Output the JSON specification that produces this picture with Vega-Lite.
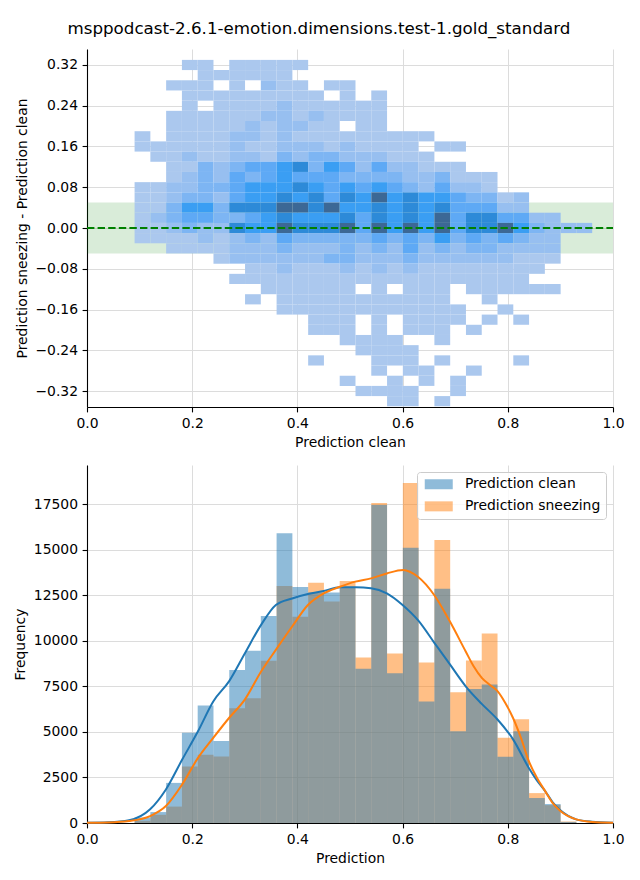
{
"$schema": "https://vega.github.io/schema/vega-lite/v6.json",
"background": "white",
"padding": {"left": 13, "top": 20, "right": 5, "bottom": 5},
"title": {"text": "msppodcast-2.6.1-emotion.dimensions.test-1.gold_standard", "font": "DejaVu Sans", "fontSize": 16.7, "fontWeight": "normal", "color": "black", "anchor": "middle", "baseline": "bottom", "offset": -5.5},
"spacing": 15,
"resolve": {"scale": {"color": "independent"}, "legend": {"color": "independent"}},
"datasets": {
"cells": [
{"x":0.1795,"y":0.311,"n":1},{"x":0.2095,"y":0.311,"n":1},{"x":0.2695,"y":0.311,"n":1},{"x":0.2995,"y":0.311,"n":1},{"x":0.3295,"y":0.311,"n":1},{"x":0.3595,"y":0.311,"n":1},{"x":0.3895,"y":0.311,"n":1},
{"x":0.2095,"y":0.291,"n":1},{"x":0.2395,"y":0.291,"n":1},{"x":0.2695,"y":0.291,"n":1},{"x":0.2995,"y":0.291,"n":1},{"x":0.3295,"y":0.291,"n":1},{"x":0.3595,"y":0.291,"n":1},
{"x":0.1495,"y":0.271,"n":1},{"x":0.1795,"y":0.271,"n":1},{"x":0.2095,"y":0.271,"n":1},{"x":0.2695,"y":0.271,"n":1},{"x":0.3295,"y":0.271,"n":2},{"x":0.3595,"y":0.271,"n":1},{"x":0.3895,"y":0.271,"n":1},{"x":0.4495,"y":0.271,"n":1},{"x":0.4795,"y":0.271,"n":1},
{"x":0.1795,"y":0.251,"n":1},{"x":0.2095,"y":0.251,"n":1},{"x":0.2395,"y":0.251,"n":1},{"x":0.2695,"y":0.251,"n":1},{"x":0.2995,"y":0.251,"n":1},{"x":0.3295,"y":0.251,"n":1},{"x":0.3595,"y":0.251,"n":1},{"x":0.3895,"y":0.251,"n":1},{"x":0.4195,"y":0.251,"n":1},{"x":0.4795,"y":0.251,"n":1},{"x":0.5395,"y":0.251,"n":1},
{"x":0.1795,"y":0.231,"n":1},{"x":0.2395,"y":0.231,"n":1},{"x":0.2695,"y":0.231,"n":1},{"x":0.2995,"y":0.231,"n":1},{"x":0.3295,"y":0.231,"n":1},{"x":0.3595,"y":0.231,"n":2},{"x":0.3895,"y":0.231,"n":1},{"x":0.4195,"y":0.231,"n":1},{"x":0.4495,"y":0.231,"n":1},{"x":0.4795,"y":0.231,"n":1},{"x":0.5095,"y":0.231,"n":1},{"x":0.5395,"y":0.231,"n":1},
{"x":0.1495,"y":0.211,"n":1},{"x":0.1795,"y":0.211,"n":1},{"x":0.2095,"y":0.211,"n":1},{"x":0.2395,"y":0.211,"n":1},{"x":0.2695,"y":0.211,"n":1},{"x":0.2995,"y":0.211,"n":1},{"x":0.3295,"y":0.211,"n":2},{"x":0.3595,"y":0.211,"n":2},{"x":0.3895,"y":0.211,"n":1},{"x":0.4195,"y":0.211,"n":2},{"x":0.4495,"y":0.211,"n":1},{"x":0.4795,"y":0.211,"n":1},{"x":0.5095,"y":0.211,"n":1},{"x":0.5395,"y":0.211,"n":1},
{"x":0.1495,"y":0.191,"n":1},{"x":0.1795,"y":0.191,"n":1},{"x":0.2095,"y":0.191,"n":1},{"x":0.2395,"y":0.191,"n":1},{"x":0.2695,"y":0.191,"n":1},{"x":0.2995,"y":0.191,"n":2},{"x":0.3295,"y":0.191,"n":1},{"x":0.3595,"y":0.191,"n":2},{"x":0.3895,"y":0.191,"n":2},{"x":0.4195,"y":0.191,"n":1},{"x":0.4495,"y":0.191,"n":1},{"x":0.5095,"y":0.191,"n":1},{"x":0.5395,"y":0.191,"n":1},
{"x":0.0895,"y":0.171,"n":1},{"x":0.1495,"y":0.171,"n":1},{"x":0.1795,"y":0.171,"n":1},{"x":0.2095,"y":0.171,"n":1},{"x":0.2395,"y":0.171,"n":1},{"x":0.2695,"y":0.171,"n":2},{"x":0.2995,"y":0.171,"n":2},{"x":0.3295,"y":0.171,"n":1},{"x":0.3595,"y":0.171,"n":2},{"x":0.3895,"y":0.171,"n":1},{"x":0.4195,"y":0.171,"n":1},{"x":0.4495,"y":0.171,"n":1},{"x":0.4795,"y":0.171,"n":1},{"x":0.5095,"y":0.171,"n":1},{"x":0.5395,"y":0.171,"n":1},{"x":0.5695,"y":0.171,"n":1},{"x":0.5995,"y":0.171,"n":1},{"x":0.6295,"y":0.171,"n":1},
{"x":0.0895,"y":0.151,"n":1},{"x":0.1195,"y":0.151,"n":1},{"x":0.1495,"y":0.151,"n":1},{"x":0.1795,"y":0.151,"n":1},{"x":0.2095,"y":0.151,"n":1},{"x":0.2395,"y":0.151,"n":1},{"x":0.2695,"y":0.151,"n":2},{"x":0.2995,"y":0.151,"n":1},{"x":0.3295,"y":0.151,"n":1},{"x":0.3595,"y":0.151,"n":2},{"x":0.3895,"y":0.151,"n":2},{"x":0.4195,"y":0.151,"n":2},{"x":0.4495,"y":0.151,"n":1},{"x":0.4795,"y":0.151,"n":2},{"x":0.5095,"y":0.151,"n":1},{"x":0.5395,"y":0.151,"n":1},{"x":0.5695,"y":0.151,"n":1},{"x":0.5995,"y":0.151,"n":1},{"x":0.6595,"y":0.151,"n":1},{"x":0.6895,"y":0.151,"n":1},
{"x":0.1195,"y":0.131,"n":1},{"x":0.1495,"y":0.131,"n":1},{"x":0.1795,"y":0.131,"n":2},{"x":0.2095,"y":0.131,"n":1},{"x":0.2395,"y":0.131,"n":1},{"x":0.2695,"y":0.131,"n":2},{"x":0.2995,"y":0.131,"n":2},{"x":0.3295,"y":0.131,"n":1},{"x":0.3595,"y":0.131,"n":3},{"x":0.3895,"y":0.131,"n":2},{"x":0.4195,"y":0.131,"n":3},{"x":0.4495,"y":0.131,"n":3},{"x":0.4795,"y":0.131,"n":2},{"x":0.5095,"y":0.131,"n":2},{"x":0.5395,"y":0.131,"n":2},{"x":0.5695,"y":0.131,"n":1},{"x":0.5995,"y":0.131,"n":1},{"x":0.6295,"y":0.131,"n":1},
{"x":0.1495,"y":0.111,"n":1},{"x":0.1795,"y":0.111,"n":1},{"x":0.2095,"y":0.111,"n":3},{"x":0.2395,"y":0.111,"n":2},{"x":0.2695,"y":0.111,"n":3},{"x":0.2995,"y":0.111,"n":4},{"x":0.3295,"y":0.111,"n":4},{"x":0.3595,"y":0.111,"n":5},{"x":0.3895,"y":0.111,"n":6},{"x":0.4195,"y":0.111,"n":3},{"x":0.4495,"y":0.111,"n":5},{"x":0.4795,"y":0.111,"n":4},{"x":0.5095,"y":0.111,"n":2},{"x":0.5395,"y":0.111,"n":4},{"x":0.5695,"y":0.111,"n":2},{"x":0.5995,"y":0.111,"n":2},{"x":0.6295,"y":0.111,"n":1},{"x":0.6595,"y":0.111,"n":1},{"x":0.6895,"y":0.111,"n":1},
{"x":0.1495,"y":0.091,"n":1},{"x":0.1795,"y":0.091,"n":2},{"x":0.2095,"y":0.091,"n":3},{"x":0.2395,"y":0.091,"n":2},{"x":0.2695,"y":0.091,"n":4},{"x":0.2995,"y":0.091,"n":3},{"x":0.3295,"y":0.091,"n":4},{"x":0.3595,"y":0.091,"n":5},{"x":0.3895,"y":0.091,"n":4},{"x":0.4195,"y":0.091,"n":4},{"x":0.4495,"y":0.091,"n":4},{"x":0.4795,"y":0.091,"n":3},{"x":0.5095,"y":0.091,"n":3},{"x":0.5395,"y":0.091,"n":3},{"x":0.5695,"y":0.091,"n":3},{"x":0.5995,"y":0.091,"n":2},{"x":0.6295,"y":0.091,"n":2},{"x":0.6595,"y":0.091,"n":3},{"x":0.6895,"y":0.091,"n":1},{"x":0.7195,"y":0.091,"n":1},{"x":0.7495,"y":0.091,"n":1},
{"x":0.0895,"y":0.071,"n":1},{"x":0.1195,"y":0.071,"n":1},{"x":0.1495,"y":0.071,"n":2},{"x":0.1795,"y":0.071,"n":2},{"x":0.2095,"y":0.071,"n":3},{"x":0.2395,"y":0.071,"n":3},{"x":0.2695,"y":0.071,"n":4},{"x":0.2995,"y":0.071,"n":5},{"x":0.3295,"y":0.071,"n":5},{"x":0.3595,"y":0.071,"n":5},{"x":0.3895,"y":0.071,"n":6},{"x":0.4195,"y":0.071,"n":5},{"x":0.4495,"y":0.071,"n":4},{"x":0.4795,"y":0.071,"n":5},{"x":0.5095,"y":0.071,"n":4},{"x":0.5395,"y":0.071,"n":5},{"x":0.5695,"y":0.071,"n":4},{"x":0.5995,"y":0.071,"n":3},{"x":0.6295,"y":0.071,"n":2},{"x":0.6595,"y":0.071,"n":4},{"x":0.6895,"y":0.071,"n":2},{"x":0.7195,"y":0.071,"n":2},{"x":0.7495,"y":0.071,"n":1},
{"x":0.0895,"y":0.051,"n":1},{"x":0.1195,"y":0.051,"n":1},{"x":0.1495,"y":0.051,"n":2},{"x":0.1795,"y":0.051,"n":3},{"x":0.2095,"y":0.051,"n":3},{"x":0.2395,"y":0.051,"n":2},{"x":0.2695,"y":0.051,"n":4},{"x":0.2995,"y":0.051,"n":5},{"x":0.3295,"y":0.051,"n":5},{"x":0.3595,"y":0.051,"n":6},{"x":0.3895,"y":0.051,"n":5},{"x":0.4195,"y":0.051,"n":6},{"x":0.4495,"y":0.051,"n":4},{"x":0.4795,"y":0.051,"n":6},{"x":0.5095,"y":0.051,"n":5},{"x":0.5395,"y":0.051,"n":7},{"x":0.5695,"y":0.051,"n":5},{"x":0.5995,"y":0.051,"n":6},{"x":0.6295,"y":0.051,"n":5},{"x":0.6595,"y":0.051,"n":5},{"x":0.6895,"y":0.051,"n":4},{"x":0.7195,"y":0.051,"n":3},{"x":0.7495,"y":0.051,"n":3},{"x":0.7795,"y":0.051,"n":1},{"x":0.8095,"y":0.051,"n":2},
{"x":0.0895,"y":0.031,"n":1},{"x":0.1195,"y":0.031,"n":1},{"x":0.1495,"y":0.031,"n":3},{"x":0.1795,"y":0.031,"n":5},{"x":0.2095,"y":0.031,"n":5},{"x":0.2395,"y":0.031,"n":3},{"x":0.2695,"y":0.031,"n":6},{"x":0.2995,"y":0.031,"n":6},{"x":0.3295,"y":0.031,"n":6},{"x":0.3595,"y":0.031,"n":7},{"x":0.3895,"y":0.031,"n":7},{"x":0.4195,"y":0.031,"n":6},{"x":0.4495,"y":0.031,"n":7},{"x":0.4795,"y":0.031,"n":5},{"x":0.5095,"y":0.031,"n":5},{"x":0.5395,"y":0.031,"n":6},{"x":0.5695,"y":0.031,"n":5},{"x":0.5995,"y":0.031,"n":6},{"x":0.6295,"y":0.031,"n":5},{"x":0.6595,"y":0.031,"n":6},{"x":0.6895,"y":0.031,"n":4},{"x":0.7195,"y":0.031,"n":4},{"x":0.7495,"y":0.031,"n":4},{"x":0.7795,"y":0.031,"n":2},{"x":0.8095,"y":0.031,"n":2},
{"x":0.0895,"y":0.011,"n":1},{"x":0.1195,"y":0.011,"n":2},{"x":0.1495,"y":0.011,"n":3},{"x":0.1795,"y":0.011,"n":4},{"x":0.2095,"y":0.011,"n":4},{"x":0.2395,"y":0.011,"n":3},{"x":0.2695,"y":0.011,"n":3},{"x":0.2995,"y":0.011,"n":4},{"x":0.3295,"y":0.011,"n":5},{"x":0.3595,"y":0.011,"n":6},{"x":0.3895,"y":0.011,"n":5},{"x":0.4195,"y":0.011,"n":5},{"x":0.4495,"y":0.011,"n":5},{"x":0.4795,"y":0.011,"n":6},{"x":0.5095,"y":0.011,"n":4},{"x":0.5395,"y":0.011,"n":6},{"x":0.5695,"y":0.011,"n":5},{"x":0.5995,"y":0.011,"n":6},{"x":0.6295,"y":0.011,"n":5},{"x":0.6595,"y":0.011,"n":7},{"x":0.6895,"y":0.011,"n":4},{"x":0.7195,"y":0.011,"n":6},{"x":0.7495,"y":0.011,"n":6},{"x":0.7795,"y":0.011,"n":4},{"x":0.8095,"y":0.011,"n":4},{"x":0.8395,"y":0.011,"n":2},{"x":0.8695,"y":0.011,"n":2},
{"x":0.0895,"y":-0.009,"n":1},{"x":0.1195,"y":-0.009,"n":1},{"x":0.1495,"y":-0.009,"n":2},{"x":0.1795,"y":-0.009,"n":3},{"x":0.2095,"y":-0.009,"n":2},{"x":0.2395,"y":-0.009,"n":2},{"x":0.2695,"y":-0.009,"n":6},{"x":0.2995,"y":-0.009,"n":5},{"x":0.3295,"y":-0.009,"n":5},{"x":0.3595,"y":-0.009,"n":7},{"x":0.3895,"y":-0.009,"n":6},{"x":0.4195,"y":-0.009,"n":6},{"x":0.4495,"y":-0.009,"n":6},{"x":0.4795,"y":-0.009,"n":7},{"x":0.5095,"y":-0.009,"n":4},{"x":0.5395,"y":-0.009,"n":7},{"x":0.5695,"y":-0.009,"n":5},{"x":0.5995,"y":-0.009,"n":7},{"x":0.6295,"y":-0.009,"n":5},{"x":0.6595,"y":-0.009,"n":7},{"x":0.6895,"y":-0.009,"n":4},{"x":0.7195,"y":-0.009,"n":6},{"x":0.7495,"y":-0.009,"n":6},{"x":0.7795,"y":-0.009,"n":7},{"x":0.8095,"y":-0.009,"n":5},{"x":0.8395,"y":-0.009,"n":3},{"x":0.8695,"y":-0.009,"n":2},{"x":0.8995,"y":-0.009,"n":2},{"x":0.9295,"y":-0.009,"n":2},
{"x":0.0895,"y":-0.029,"n":1},{"x":0.1195,"y":-0.029,"n":1},{"x":0.1495,"y":-0.029,"n":1},{"x":0.1795,"y":-0.029,"n":1},{"x":0.2095,"y":-0.029,"n":2},{"x":0.2395,"y":-0.029,"n":1},{"x":0.2695,"y":-0.029,"n":2},{"x":0.2995,"y":-0.029,"n":3},{"x":0.3295,"y":-0.029,"n":2},{"x":0.3595,"y":-0.029,"n":4},{"x":0.3895,"y":-0.029,"n":3},{"x":0.4195,"y":-0.029,"n":3},{"x":0.4495,"y":-0.029,"n":3},{"x":0.4795,"y":-0.029,"n":3},{"x":0.5095,"y":-0.029,"n":3},{"x":0.5395,"y":-0.029,"n":4},{"x":0.5695,"y":-0.029,"n":3},{"x":0.5995,"y":-0.029,"n":4},{"x":0.6295,"y":-0.029,"n":3},{"x":0.6595,"y":-0.029,"n":5},{"x":0.6895,"y":-0.029,"n":3},{"x":0.7195,"y":-0.029,"n":4},{"x":0.7495,"y":-0.029,"n":3},{"x":0.7795,"y":-0.029,"n":4},{"x":0.8095,"y":-0.029,"n":3},{"x":0.8395,"y":-0.029,"n":2},{"x":0.8695,"y":-0.029,"n":2},
{"x":0.1495,"y":-0.049,"n":1},{"x":0.1795,"y":-0.049,"n":1},{"x":0.2095,"y":-0.049,"n":1},{"x":0.2395,"y":-0.049,"n":1},{"x":0.2695,"y":-0.049,"n":2},{"x":0.2995,"y":-0.049,"n":2},{"x":0.3295,"y":-0.049,"n":2},{"x":0.3595,"y":-0.049,"n":3},{"x":0.3895,"y":-0.049,"n":2},{"x":0.4195,"y":-0.049,"n":2},{"x":0.4495,"y":-0.049,"n":2},{"x":0.4795,"y":-0.049,"n":3},{"x":0.5095,"y":-0.049,"n":2},{"x":0.5395,"y":-0.049,"n":3},{"x":0.5695,"y":-0.049,"n":2},{"x":0.5995,"y":-0.049,"n":4},{"x":0.6295,"y":-0.049,"n":2},{"x":0.6595,"y":-0.049,"n":3},{"x":0.6895,"y":-0.049,"n":2},{"x":0.7195,"y":-0.049,"n":3},{"x":0.7495,"y":-0.049,"n":3},{"x":0.7795,"y":-0.049,"n":2},{"x":0.8095,"y":-0.049,"n":2},{"x":0.8395,"y":-0.049,"n":2},{"x":0.8695,"y":-0.049,"n":2},
{"x":0.2395,"y":-0.069,"n":1},{"x":0.2695,"y":-0.069,"n":2},{"x":0.2995,"y":-0.069,"n":2},{"x":0.3295,"y":-0.069,"n":2},{"x":0.3595,"y":-0.069,"n":2},{"x":0.3895,"y":-0.069,"n":2},{"x":0.4195,"y":-0.069,"n":2},{"x":0.4495,"y":-0.069,"n":3},{"x":0.4795,"y":-0.069,"n":3},{"x":0.5095,"y":-0.069,"n":2},{"x":0.5395,"y":-0.069,"n":2},{"x":0.5695,"y":-0.069,"n":2},{"x":0.5995,"y":-0.069,"n":3},{"x":0.6295,"y":-0.069,"n":2},{"x":0.6595,"y":-0.069,"n":2},{"x":0.6895,"y":-0.069,"n":2},{"x":0.7195,"y":-0.069,"n":2},{"x":0.7495,"y":-0.069,"n":2},{"x":0.7795,"y":-0.069,"n":2},{"x":0.8095,"y":-0.069,"n":1},{"x":0.8395,"y":-0.069,"n":1},{"x":0.8695,"y":-0.069,"n":1},
{"x":0.2995,"y":-0.089,"n":1},{"x":0.3295,"y":-0.089,"n":1},{"x":0.3595,"y":-0.089,"n":2},{"x":0.3895,"y":-0.089,"n":1},{"x":0.4195,"y":-0.089,"n":1},{"x":0.4495,"y":-0.089,"n":1},{"x":0.4795,"y":-0.089,"n":2},{"x":0.5095,"y":-0.089,"n":1},{"x":0.5395,"y":-0.089,"n":2},{"x":0.5695,"y":-0.089,"n":1},{"x":0.5995,"y":-0.089,"n":2},{"x":0.6295,"y":-0.089,"n":1},{"x":0.6595,"y":-0.089,"n":1},{"x":0.6895,"y":-0.089,"n":1},{"x":0.7195,"y":-0.089,"n":1},{"x":0.7495,"y":-0.089,"n":1},{"x":0.7795,"y":-0.089,"n":1},{"x":0.8095,"y":-0.089,"n":1},{"x":0.8395,"y":-0.089,"n":1},
{"x":0.2695,"y":-0.109,"n":1},{"x":0.2995,"y":-0.109,"n":1},{"x":0.3295,"y":-0.109,"n":1},{"x":0.3595,"y":-0.109,"n":1},{"x":0.3895,"y":-0.109,"n":1},{"x":0.4195,"y":-0.109,"n":1},{"x":0.4495,"y":-0.109,"n":1},{"x":0.4795,"y":-0.109,"n":1},{"x":0.5095,"y":-0.109,"n":1},{"x":0.5395,"y":-0.109,"n":1},{"x":0.5695,"y":-0.109,"n":1},{"x":0.5995,"y":-0.109,"n":1},{"x":0.6295,"y":-0.109,"n":1},{"x":0.6595,"y":-0.109,"n":1},{"x":0.6895,"y":-0.109,"n":1},{"x":0.7195,"y":-0.109,"n":1},{"x":0.7495,"y":-0.109,"n":1},{"x":0.7795,"y":-0.109,"n":1},{"x":0.8095,"y":-0.109,"n":1},
{"x":0.3295,"y":-0.129,"n":1},{"x":0.3595,"y":-0.129,"n":1},{"x":0.3895,"y":-0.129,"n":1},{"x":0.4195,"y":-0.129,"n":1},{"x":0.4495,"y":-0.129,"n":1},{"x":0.4795,"y":-0.129,"n":1},{"x":0.5395,"y":-0.129,"n":1},{"x":0.5995,"y":-0.129,"n":1},{"x":0.6295,"y":-0.129,"n":1},{"x":0.6595,"y":-0.129,"n":1},{"x":0.7195,"y":-0.129,"n":1},{"x":0.7495,"y":-0.129,"n":1},{"x":0.7795,"y":-0.129,"n":1},{"x":0.8095,"y":-0.129,"n":1},{"x":0.8395,"y":-0.129,"n":1},{"x":0.8695,"y":-0.129,"n":1},
{"x":0.2995,"y":-0.149,"n":1},{"x":0.3595,"y":-0.149,"n":1},{"x":0.3895,"y":-0.149,"n":1},{"x":0.4195,"y":-0.149,"n":1},{"x":0.4495,"y":-0.149,"n":1},{"x":0.4795,"y":-0.149,"n":1},{"x":0.5095,"y":-0.149,"n":1},{"x":0.5395,"y":-0.149,"n":1},{"x":0.5695,"y":-0.149,"n":1},{"x":0.5995,"y":-0.149,"n":1},{"x":0.6295,"y":-0.149,"n":1},{"x":0.6595,"y":-0.149,"n":1},{"x":0.7495,"y":-0.149,"n":1},
{"x":0.3595,"y":-0.169,"n":1},{"x":0.3895,"y":-0.169,"n":1},{"x":0.4195,"y":-0.169,"n":1},{"x":0.4495,"y":-0.169,"n":1},{"x":0.4795,"y":-0.169,"n":1},{"x":0.5095,"y":-0.169,"n":1},{"x":0.5395,"y":-0.169,"n":1},{"x":0.5695,"y":-0.169,"n":1},{"x":0.5995,"y":-0.169,"n":1},{"x":0.6295,"y":-0.169,"n":1},{"x":0.6595,"y":-0.169,"n":1},{"x":0.6895,"y":-0.169,"n":1},{"x":0.7795,"y":-0.169,"n":1},
{"x":0.4195,"y":-0.189,"n":1},{"x":0.4495,"y":-0.189,"n":1},{"x":0.4795,"y":-0.189,"n":1},{"x":0.5395,"y":-0.189,"n":1},{"x":0.5995,"y":-0.189,"n":1},{"x":0.6295,"y":-0.189,"n":1},{"x":0.6595,"y":-0.189,"n":1},{"x":0.6895,"y":-0.189,"n":1},{"x":0.7495,"y":-0.189,"n":1},{"x":0.8095,"y":-0.189,"n":1},
{"x":0.4195,"y":-0.209,"n":1},{"x":0.4495,"y":-0.209,"n":1},{"x":0.4795,"y":-0.209,"n":1},{"x":0.5395,"y":-0.209,"n":1},{"x":0.5995,"y":-0.209,"n":1},{"x":0.6295,"y":-0.209,"n":1},{"x":0.6595,"y":-0.209,"n":1},{"x":0.7195,"y":-0.209,"n":1},
{"x":0.4795,"y":-0.229,"n":1},{"x":0.5095,"y":-0.229,"n":1},{"x":0.5395,"y":-0.229,"n":1},{"x":0.5695,"y":-0.229,"n":1},{"x":0.6595,"y":-0.229,"n":1},
{"x":0.5095,"y":-0.249,"n":1},{"x":0.5395,"y":-0.249,"n":1},{"x":0.5695,"y":-0.249,"n":1},{"x":0.5995,"y":-0.249,"n":1},
{"x":0.4195,"y":-0.269,"n":1},{"x":0.5395,"y":-0.269,"n":1},{"x":0.5695,"y":-0.269,"n":1},{"x":0.5995,"y":-0.269,"n":1},{"x":0.6595,"y":-0.269,"n":1},{"x":0.8095,"y":-0.269,"n":1},
{"x":0.5395,"y":-0.289,"n":1},{"x":0.5995,"y":-0.289,"n":1},{"x":0.6295,"y":-0.289,"n":1},{"x":0.7195,"y":-0.289,"n":1},
{"x":0.4795,"y":-0.309,"n":1},{"x":0.5695,"y":-0.309,"n":1},{"x":0.6295,"y":-0.309,"n":1},{"x":0.6895,"y":-0.309,"n":1},
{"x":0.5095,"y":-0.329,"n":1},{"x":0.5395,"y":-0.329,"n":1},{"x":0.5695,"y":-0.329,"n":1},{"x":0.5995,"y":-0.329,"n":1},{"x":0.6895,"y":-0.329,"n":1},
{"x":0.5695,"y":-0.349,"n":1},{"x":0.5995,"y":-0.349,"n":1},{"x":0.6595,"y":-0.349,"n":1}
],
"band": [{"lo": -0.05, "hi": 0.05}],
"zero": [{"y": 0}],
"hist": [
{"s":"Prediction sneezing","b":0.0895,"n":120},{"s":"Prediction sneezing","b":0.1195,"n":450},{"s":"Prediction sneezing","b":0.1495,"n":900},{"s":"Prediction sneezing","b":0.1795,"n":3100},{"s":"Prediction sneezing","b":0.2095,"n":3750},{"s":"Prediction sneezing","b":0.2395,"n":3650},{"s":"Prediction sneezing","b":0.2695,"n":6300},{"s":"Prediction sneezing","b":0.2995,"n":6850},{"s":"Prediction sneezing","b":0.3295,"n":8900},{"s":"Prediction sneezing","b":0.3595,"n":13000},{"s":"Prediction sneezing","b":0.3895,"n":11320},{"s":"Prediction sneezing","b":0.4195,"n":13180},{"s":"Prediction sneezing","b":0.4495,"n":12150},{"s":"Prediction sneezing","b":0.4795,"n":13280},{"s":"Prediction sneezing","b":0.5095,"n":9080},{"s":"Prediction sneezing","b":0.5395,"n":17550},{"s":"Prediction sneezing","b":0.5695,"n":9300},{"s":"Prediction sneezing","b":0.5995,"n":18650},{"s":"Prediction sneezing","b":0.6295,"n":8800},{"s":"Prediction sneezing","b":0.6595,"n":15530},{"s":"Prediction sneezing","b":0.6895,"n":7170},{"s":"Prediction sneezing","b":0.7195,"n":8920},{"s":"Prediction sneezing","b":0.7495,"n":10390},{"s":"Prediction sneezing","b":0.7795,"n":4670},{"s":"Prediction sneezing","b":0.8095,"n":5690},{"s":"Prediction sneezing","b":0.8395,"n":1640},{"s":"Prediction sneezing","b":0.8695,"n":980},{"s":"Prediction sneezing","b":0.8995,"n":80},
{"s":"Prediction clean","b":0.0895,"n":300},{"s":"Prediction clean","b":0.1195,"n":600},{"s":"Prediction clean","b":0.1495,"n":2200},{"s":"Prediction clean","b":0.1795,"n":4950},{"s":"Prediction clean","b":0.2095,"n":6450},{"s":"Prediction clean","b":0.2395,"n":4500},{"s":"Prediction clean","b":0.2695,"n":8400},{"s":"Prediction clean","b":0.2995,"n":9450},{"s":"Prediction clean","b":0.3295,"n":11350},{"s":"Prediction clean","b":0.3595,"n":15900},{"s":"Prediction clean","b":0.3895,"n":12950},{"s":"Prediction clean","b":0.4195,"n":12650},{"s":"Prediction clean","b":0.4495,"n":12650},{"s":"Prediction clean","b":0.4795,"n":12900},{"s":"Prediction clean","b":0.5095,"n":8460},{"s":"Prediction clean","b":0.5395,"n":17450},{"s":"Prediction clean","b":0.5695,"n":8220},{"s":"Prediction clean","b":0.5995,"n":15100},{"s":"Prediction clean","b":0.6295,"n":6670},{"s":"Prediction clean","b":0.6595,"n":12850},{"s":"Prediction clean","b":0.6895,"n":5030},{"s":"Prediction clean","b":0.7195,"n":7350},{"s":"Prediction clean","b":0.7495,"n":7600},{"s":"Prediction clean","b":0.7795,"n":3630},{"s":"Prediction clean","b":0.8095,"n":5030},{"s":"Prediction clean","b":0.8395,"n":1370},{"s":"Prediction clean","b":0.8695,"n":1040},{"s":"Prediction clean","b":0.8995,"n":60}
],
"kdeC": [
{"x":0,"v":15},{"x":0.04,"v":40},{"x":0.08,"v":150},{"x":0.12,"v":750},{"x":0.15,"v":1840},{"x":0.181,"v":3480},{"x":0.211,"v":5030},{"x":0.24,"v":6670},{"x":0.27,"v":7770},{"x":0.3,"v":9300},{"x":0.331,"v":10870},{"x":0.359,"v":11960},{"x":0.39,"v":12320},{"x":0.42,"v":12560},{"x":0.45,"v":12730},{"x":0.481,"v":12930},{"x":0.511,"v":12930},{"x":0.54,"v":12880},{"x":0.57,"v":12600},{"x":0.6,"v":11960},{"x":0.63,"v":11100},{"x":0.66,"v":9900},{"x":0.69,"v":8700},{"x":0.72,"v":7500},{"x":0.75,"v":6550},{"x":0.78,"v":5690},{"x":0.81,"v":4590},{"x":0.84,"v":3020},{"x":0.855,"v":2350},{"x":0.871,"v":1750},{"x":0.885,"v":1150},{"x":0.9,"v":695},{"x":0.93,"v":200},{"x":0.96,"v":70},{"x":1,"v":20}
],
"kdeS": [
{"x":0,"v":10},{"x":0.04,"v":30},{"x":0.08,"v":110},{"x":0.12,"v":380},{"x":0.15,"v":930},{"x":0.181,"v":2120},{"x":0.211,"v":3570},{"x":0.24,"v":4670},{"x":0.27,"v":5760},{"x":0.3,"v":6770},{"x":0.331,"v":8310},{"x":0.359,"v":9500},{"x":0.39,"v":10780},{"x":0.42,"v":11960},{"x":0.45,"v":12600},{"x":0.481,"v":12960},{"x":0.51,"v":13240},{"x":0.54,"v":13420},{"x":0.57,"v":13690},{"x":0.601,"v":13880},{"x":0.629,"v":13510},{"x":0.66,"v":12510},{"x":0.69,"v":11050},{"x":0.72,"v":9410},{"x":0.735,"v":8600},{"x":0.751,"v":7950},{"x":0.765,"v":7600},{"x":0.78,"v":7250},{"x":0.795,"v":6600},{"x":0.81,"v":5760},{"x":0.825,"v":4670},{"x":0.84,"v":3390},{"x":0.855,"v":2500},{"x":0.871,"v":1750},{"x":0.885,"v":1100},{"x":0.9,"v":660},{"x":0.93,"v":200},{"x":0.96,"v":60},{"x":1,"v":20}
]
},
"vconcat": [
{
"width": 526, "height": 358,
"layer": [
{"data": {"name": "band"}, "mark": {"type": "rect", "color": "#008000", "opacity": 0.15},
 "encoding": {"y": {"field": "lo", "type": "quantitative", "scale": {"domain": [-0.3514, 0.3514], "nice": false, "zero": false}, "axis": {"values": [-0.32, -0.24, -0.16, -0.08, 0, 0.08, 0.16, 0.24, 0.32], "format": ".2f"}, "title": "Prediction sneezing - Prediction clean"}, "y2": {"field": "hi"}, "x": {"datum": 0, "scale": {"domain": [0, 1], "nice": false, "zero": false}, "axis": {"values": [0, 0.2, 0.4, 0.6, 0.8, 1], "format": ".1f"}, "title": "Prediction clean"}, "x2": {"datum": 1}}},
{"data": {"name": "cells"}, "mark": {"type": "rect", "strokeWidth": 0},
 "encoding": {
  "x": {"field": "x", "type": "quantitative", "bin": {"binned": true, "step": 0.03}, "title": "Prediction clean"},
  "y": {"field": "y", "type": "quantitative", "bin": {"binned": true, "step": 0.02}, "title": "Prediction sneezing - Prediction clean"},
  "color": {"field": "n", "type": "ordinal", "scale": {"domain": [1, 2, 3, 4, 5, 6, 7], "range": ["#abc8ee", "#97bff0", "#7db5f3", "#5ea9f5", "#3a9ef3", "#2d8ad8", "#3c6895"]}, "legend": null}
 }},
{"data": {"name": "zero"}, "mark": {"type": "rule", "color": "#008000", "strokeWidth": 2, "strokeDash": [7.4, 3.2]},
 "encoding": {"y": {"field": "y", "type": "quantitative"}, "x": {"datum": 0}, "x2": {"datum": 1}}}
]
},
{
"width": 526, "height": 358,
"layer": [
{"data": {"name": "hist"}, "mark": {"type": "bar", "opacity": 0.5, "binSpacing": 0, "strokeWidth": 0},
 "encoding": {
  "x": {"field": "b", "type": "quantitative", "bin": {"binned": true, "step": 0.03}, "scale": {"domain": [0, 1], "nice": false, "zero": false}, "axis": {"values": [0, 0.2, 0.4, 0.6, 0.8, 1], "format": ".1f"}, "title": "Prediction"},
  "y": {"field": "n", "type": "quantitative", "stack": null, "scale": {"domain": [0, 19640], "nice": false}, "axis": {"values": [0, 2500, 5000, 7500, 10000, 12500, 15000, 17500], "format": "d"}, "title": "Frequency"},
  "color": {"field": "s", "type": "nominal", "scale": {"domain": ["Prediction clean", "Prediction sneezing"], "range": ["#1f77b4", "#ff7f0e"]}, "legend": {"title": null, "orient": "top-right", "offset": 7}}
 }},
{"data": {"name": "kdeC"}, "mark": {"type": "line", "color": "#1f77b4", "strokeWidth": 2, "interpolate": "monotone"},
 "encoding": {"x": {"field": "x", "type": "quantitative"}, "y": {"field": "v", "type": "quantitative"}}},
{"data": {"name": "kdeS"}, "mark": {"type": "line", "color": "#ff7f0e", "strokeWidth": 2, "interpolate": "monotone"},
 "encoding": {"x": {"field": "x", "type": "quantitative"}, "y": {"field": "v", "type": "quantitative"}}}
]
}
],
"config": {
 "view": {"stroke": null},
 "font": "DejaVu Sans",
 "axis": {"labelFont": "DejaVu Sans", "titleFont": "DejaVu Sans", "labelFontSize": 13.9, "titleFontSize": 13.9, "titleFontWeight": "normal", "labelColor": "black", "titleColor": "black", "domainColor": "black", "domainWidth": 1.1, "tickColor": "black", "tickWidth": 1.1, "tickSize": 4.9, "labelPadding": 4.6, "titlePadding": 5.5, "grid": true, "gridColor": "#dcdcdc", "gridWidth": 1, "zindex": 1, "labelFlush": false, "labelOverlap": false},
 "legend": {"fillColor": "rgba(255,255,255,0.8)", "strokeColor": "#cccccc", "cornerRadius": 3, "padding": 5.3, "symbolType": "M-0.9,-1H4.7V1H-0.9Z", "symbolSize": 100, "symbolOpacity": 0.5, "symbolStrokeWidth": 0, "labelFont": "DejaVu Sans", "labelFontSize": 13.9, "labelColor": "black", "labelOffset": 28.7, "rowPadding": 7.1}
}
}
